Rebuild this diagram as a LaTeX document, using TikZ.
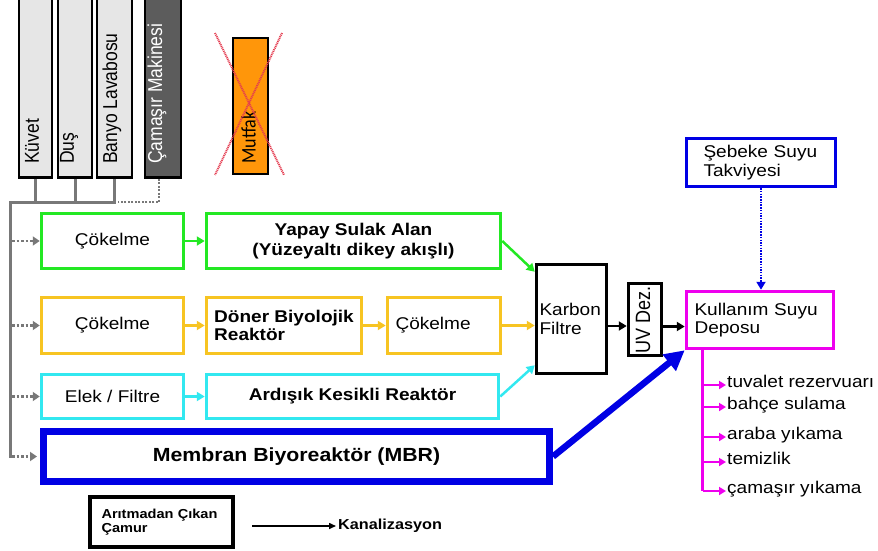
\documentclass[tikz,border=0pt]{standalone}
\usepackage{fontspec}
\usepackage{graphicx}
\setmainfont{Liberation Sans}[FakeStretch=1.12]
\newfontfamily\plainsans{Liberation Sans}
\newfontfamily\calib{Carlito}
\usetikzlibrary{arrows.meta}
\definecolor{cgreen}{RGB}{35,232,35}
\definecolor{cyel}{RGB}{247,196,34}
\definecolor{ccyan}{RGB}{50,232,240}
\definecolor{cblue}{RGB}{0,0,228}
\definecolor{cmag}{RGB}{238,0,238}
\definecolor{corange}{RGB}{255,150,10}
\definecolor{cgrayline}{RGB}{120,120,120}
\definecolor{csrc}{RGB}{230,230,230}
\definecolor{cdark}{RGB}{92,92,92}
\definecolor{cred}{RGB}{228,60,80}
\newcommand\fN{\fontsize{17}{18.5}\selectfont}
\newcommand\fB{\fontsize{17}{18.5}\selectfont\bfseries}
\newcommand\thick[1]{\scalebox{1}[1.15]{#1}}
\begin{document}
\begin{tikzpicture}[x=1pt, y=-1pt,
  box/.style={draw=#1, line width=3.5pt, fill=white, inner sep=0pt, align=center, font=\fN},
  src/.style={draw=black, line width=2.5pt, fill=csrc, minimum height=185pt, inner sep=0pt},
  rlab/.style={rotate=90, anchor=west, inner sep=0pt, font=\plainsans\fontsize{17.5}{18}\selectfont},
  carrow/.style={draw=#1, line width=2.5pt, -{Triangle[length=8pt,width=9pt]}},
  feed/.style={draw=cgrayline, line width=2.5pt, dash pattern=on 2.5pt off 2pt, -{Triangle[length=7pt,width=9pt]}},
  trunk/.style={draw=cgrayline, line width=3pt},
  lab/.style={anchor=west, inner sep=1pt, text height=1.05ex, text depth=0pt, font=\fN},
  marrow/.style={draw=cmag, line width=2.5pt, -{Triangle[length=7pt,width=8pt]}},
  blk/.style={draw=black, line width=2.5pt, -{Triangle[length=8pt,width=9pt]}}
]
\useasboundingbox (0,0) rectangle (878,551);

% sources
\node[src, minimum width=33pt] (kuvet) at (35.5,85) {};
\node[src, minimum width=34pt] (dus) at (75,85) {};
\node[src, minimum width=35pt] (banyo) at (114.5,85) {};
\node[src, fill=cdark, minimum width=36pt] (cam) at (163,85) {};
\node[rlab] (kuvetT) at (32,164) {\thick{Küvet}};
\node[rlab] (dusT) at (69,164) {\thick{Duş}};
\node[rlab] (banyoT) at (112,164) {\thick{Banyo Lavabosu}};
\node[rlab, text=white] (camT) at (157,164) {\thick{Çamaşır Makinesi}};

% kitchen (crossed out)
\node[draw=black, line width=2pt, fill=corange, minimum width=35pt, minimum height=136pt, inner sep=0pt] (mutfak) at (250.5,106) {};
\node[rotate=90, anchor=west, inner sep=0pt, font=\calib\fontsize{18}{20}\selectfont] (mutfakT) at (248.5,164) {\thick{Mutfak}};
\draw[cred, line width=2pt, dash pattern=on 1pt off 0.8pt] (215,33) -- (284,175) (282,33) -- (215,175);

% treatment rows
\node[box=cgreen, minimum width=142pt, minimum height=55pt] (c1) at (112.5,241) {Çökelme};
\node[box=cgreen, minimum width=294pt, minimum height=55pt, font=\fontsize{17}{20}\selectfont\bfseries] (yapay) at (353.5,241) {Yapay Sulak Alan\\(Yüzeyaltı dikey akışlı)};
\node[box=cyel, minimum width=142pt, minimum height=56pt] (c2) at (112.5,325.5) {Çökelme};
\node[box=cyel, minimum width=155pt, minimum height=56pt, align=left, font=\fB] (doner) at (284,325.5) {Döner Biyolojik\\Reaktör};
\node[box=cyel, minimum height=56pt, text width=97pt, inner xsep=8pt, align=left] (c3) at (444,325.5) {Çökelme};
\node[box=ccyan, minimum width=142pt, minimum height=44pt] (elek) at (112.5,396.5) {Elek / Filtre};
\node[box=ccyan, minimum width=292pt, minimum height=44pt, font=\fB] (ards) at (352.5,396.5) {Ardışık Kesikli Reaktör};
\node[box=cblue, line width=7pt, minimum width=506pt, minimum height=50pt, font=\fontsize{19}{21}\selectfont\bfseries] (mbr) at (296.5,456.5) {Membran Biyoreaktör (MBR)};

% post treatment
\node[box=black, minimum height=109pt, text width=64pt, inner xsep=3pt, align=left] (karbon) at (571.5,319) {Karbon\\Filtre};
\node[box=black, minimum width=33pt, minimum height=72pt] (uv) at (645,319.5) {};
\node[rotate=90, inner sep=0pt, font=\plainsans\fontsize{18}{20}\selectfont] (uvT) at (643,320) {\thick{UV Dez.}};
\node[box=cmag, minimum height=57pt, text width=131pt, inner xsep=8pt, align=left] (kul) at (760,320) {Kullanım Suyu\\Deposu};
\node[box=cblue, minimum height=48pt, text width=115pt, inner xsep=17pt, align=left] (seb) at (761,162.5) {Şebeke Suyu\\Takviyesi};

% uses
\node[lab] (t1) at (726,385) {tuvalet rezervuarı};
\node[lab] (t2) at (726,407) {bahçe sulama};
\node[lab] (t3) at (726,437) {araba yıkama};
\node[lab] (t4) at (726,462) {temizlik};
\node[lab] (t5) at (726,491) {çamaşır yıkama};
\coordinate (mt) at ([xshift=18pt]kul.south west);
\draw[cmag, line width=3pt] (mt) -- (mt |- t5.west);
\foreach \t in {t1,t2,t3,t4,t5} \draw[marrow] (mt |- \t.west) -- (\t.west);

% legend
\node[draw=black, line width=4pt, fill=white, minimum height=50pt, text width=120pt, inner xsep=11.5pt, inner ysep=0pt, align=left, font=\fontsize{13}{14}\selectfont\bfseries] (leg) at (161.5,522) {Arıtmadan Çıkan\\Çamur};
\node[anchor=west, inner sep=2pt, font=\fontsize{14.5}{16}\selectfont\bfseries] (kanal) at (336,526) {Kanalizasyon};
\draw[line width=1.5pt, -{Triangle[length=7pt,width=6pt]}] ([xshift=17pt]leg.east |- kanal.west) -- (kanal.west);

% collection bus
\coordinate (j0) at (10,202);
\coordinate (tr) at (12,0);
\draw[trunk] (kuvet.south) -- (kuvet.south |- j0);
\draw[trunk] (dus.south) -- (dus.south |- j0);
\draw[trunk] (banyo.south) |- (j0) -- (j0 |- mbr.west) -- (tr |- mbr.west);
\draw[cgrayline, line width=2.5pt, dash pattern=on 2pt off 1.5pt] ([xshift=-4pt]cam.south) |- ([xshift=3pt]banyo.south |- j0);
\foreach \n in {c1,c2,elek} \draw[feed] (tr |- \n.west) -- (\n.west);
\draw[feed] (tr |- mbr.west) -- ([xshift=-3pt]mbr.west);

% connectors
\draw[carrow=cgreen] (c1.east) -- (yapay.west);
\draw[carrow=cgreen] (yapay.east) -- ([yshift=-9pt]karbon.north west);
\draw[carrow=cyel] (c2.east) -- (doner.west);
\draw[carrow=cyel] (doner.east) -- (c3.west);
\draw[carrow=cyel] (c3.east) -- (c3.east -| karbon.west);
\draw[carrow=ccyan] (elek.east) -- (ards.west);
\draw[carrow=ccyan] (ards.east) -- ([yshift=10pt]karbon.south west);
\draw[cblue, line width=6.5pt, -{Triangle[length=20pt,width=20pt]}] (mbr.east) -- (kul.south west);
\draw[blk] ([yshift=-7pt]karbon.east) -- ([yshift=-7pt]karbon.east -| uv.west);
\draw[blk] ([yshift=-7pt]uv.east) -- ([yshift=-7pt]uv.east -| kul.west);
\draw[cblue, line width=2.5pt, dash pattern=on 1.5pt off 1.2pt, -{Triangle[length=8pt,width=9pt]}] (seb.south) -- (seb.south |- kul.north);
\end{tikzpicture}
\end{document}
